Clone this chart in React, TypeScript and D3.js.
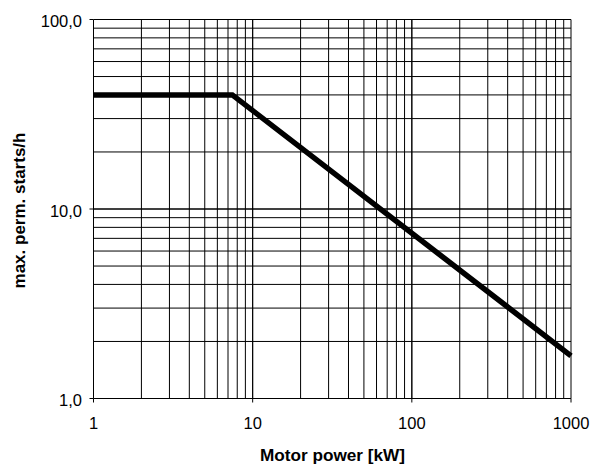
import React from "react";
import * as d3 from "d3";

const powerKW = [1, 7.45, 1000];
const startsPerHour = [40, 40, 1.68];
const xTicks = [1, 10, 100, 1000];
const xTickLabels = ["1", "10", "100", "1000"];
const yTicks = [1, 10, 100];
const yTickLabels = ["1,0", "10,0", "100,0"];

const W = 592, H = 464;
const M = { left: 93.5, right: 571, top: 19.5, bottom: 398.5 };

export default function App() {
  const x = d3.scaleLog().domain([1, 1000]).range([M.left, M.right]);
  const y = d3.scaleLog().domain([1, 100]).range([M.bottom, M.top]);

  const xGrid: number[] = [];
  for (let d = 1; d < 1000; d *= 10) for (let k = 1; k <= 10; k++) xGrid.push(d * k);
  const yGrid: number[] = [];
  for (let d = 1; d < 100; d *= 10) for (let k = 1; k <= 10; k++) yGrid.push(d * k);

  const line = d3
    .line<number>()
    .x((_, i) => x(powerKW[i]))
    .y((d) => y(d));
  const path = line(startsPerHour) || "";

  const font = "'Liberation Sans', Arial, sans-serif";

  return (
    <svg width={W} height={H} style={{ position: "absolute", left: 0, top: 0, background: "#fff" }}>
      <rect x={0} y={0} width={W} height={H} fill="#fff" />
      {xGrid.map((v, i) => (
        <line key={"xg" + i} x1={x(v)} x2={x(v)} y1={M.top} y2={M.bottom} stroke="#000" strokeWidth={1} />
      ))}
      {yGrid.map((v, i) => (
        <line key={"yg" + i} x1={M.left} x2={M.right} y1={y(v)} y2={y(v)} stroke="#000" strokeWidth={1} />
      ))}
      {xTicks.map((v, i) => (
        <line key={"xt" + i} x1={x(v)} x2={x(v)} y1={M.bottom} y2={M.bottom + 4} stroke="#000" strokeWidth={1} />
      ))}
      {yTicks.map((v, i) => (
        <line key={"yt" + i} x1={M.left - 4} x2={M.left} y1={y(v)} y2={y(v)} stroke="#000" strokeWidth={1} />
      ))}
      <path d={path} fill="none" stroke="#000" strokeWidth={5.5} strokeLinejoin="miter" />
      {xTicks.map((v, i) => (
        <text key={"xl" + i} x={x(v)} y={428.5} textAnchor="middle" fontFamily={font} fontSize={16.5} fill="#000">
          {xTickLabels[i]}
        </text>
      ))}
      {yTicks.map((v, i) => (
        <text key={"yl" + i} x={82} y={y(v) + 7.5} textAnchor="end" fontFamily={font} fontSize={16.5} fill="#000">
          {yTickLabels[i]}
        </text>
      ))}
      <text x={332.5} y={460.5} textAnchor="middle" fontFamily={font} fontSize={17.2} fontWeight="bold" fill="#000">
        Motor power [kW]
      </text>
      <text
        transform={`translate(25, 210.5) rotate(-90)`}
        textAnchor="middle"
        fontFamily={font}
        fontSize={17}
        fontWeight="bold"
        fill="#000"
      >
        max. perm. starts/h
      </text>
    </svg>
  );
}
